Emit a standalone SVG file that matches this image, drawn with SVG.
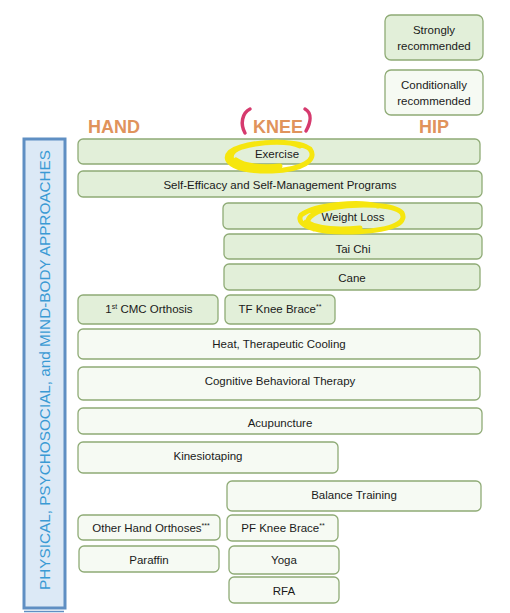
<svg xmlns="http://www.w3.org/2000/svg" width="510" height="613" viewBox="0 0 510 613">
<style>
.s{fill:#e2efd9;stroke:#8fab76;stroke-width:1.3}
.c{fill:#f6faf3;stroke:#8fab76;stroke-width:1.3}
.t{font-family:"Liberation Sans",Arial,sans-serif;font-size:11.5px;fill:#1a1a1a;text-anchor:middle}
.h{font-family:"Liberation Sans",Arial,sans-serif;font-size:18px;font-weight:bold;fill:#e0935c;text-anchor:middle}
.sup{font-size:7px}
.y{fill:none;stroke:#f6e60e;stroke-width:5;stroke-linecap:round;stroke-linejoin:round}
.p{fill:none;stroke:#d63a6e;stroke-width:3.5;stroke-linecap:round}
</style>
<rect width="510" height="613" fill="#ffffff"/>
<g id="legend-strong"><rect class="s" x="385" y="15" width="98" height="45" rx="6"/><text class="t" x="434" y="34">Strongly</text><text class="t" x="434" y="50">recommended</text></g>
<g id="legend-cond"><rect class="c" x="385" y="70" width="98" height="45" rx="6"/><text class="t" x="434" y="89">Conditionally</text><text class="t" x="434" y="105">recommended</text></g>
<g id="headers"><text class="h" x="114" y="133">HAND</text><text class="h" x="278" y="133">KNEE</text><text class="h" x="434" y="133">HIP</text></g>
<g id="sidebar"><rect x="24" y="139" width="41" height="469" fill="#dce9f6" stroke="#5f8fc3" stroke-width="3"/><line x1="24" y1="611.5" x2="64" y2="611.5" stroke="#5f8fc3" stroke-width="1.5"/><text x="0" y="0" transform="translate(50,370) rotate(-90)" font-family="'Liberation Sans',Arial,sans-serif" font-size="15.5" fill="#3a9ad4" text-anchor="middle" textLength="440" lengthAdjust="spacingAndGlyphs">PHYSICAL, PSYCHOSOCIAL, and MIND-BODY APPROACHES</text></g>
<g id="connectors"/>
<g id="exercise"><rect class="s" x="78" y="139" width="402" height="25" rx="5"/><text class="t" x="277" y="158">Exercise</text></g>
<g id="self-efficacy"><rect class="s" x="78" y="171" width="404" height="26" rx="5"/><text class="t" x="280" y="189">Self-Efficacy and Self-Management Programs</text></g>
<g id="weight-loss"><rect class="s" x="223" y="203" width="259" height="26" rx="5"/><text class="t" x="353" y="221">Weight Loss</text></g>
<g id="tai-chi"><rect class="s" x="224" y="234" width="258" height="25" rx="5"/><text class="t" x="353" y="253">Tai Chi</text></g>
<g id="cane"><rect class="s" x="224" y="264" width="256" height="26" rx="5"/><text class="t" x="352" y="282">Cane</text></g>
<g id="cmc"><rect class="s" x="78" y="295" width="140" height="29" rx="5"/><text class="t" x="149" y="313">1<tspan class="sup" dy="-4">st</tspan><tspan dy="4"> CMC Orthosis</tspan></text></g>
<g id="tf-knee"><rect class="s" x="225" y="295" width="110" height="29" rx="5"/><text class="t" x="280" y="313">TF Knee Brace<tspan class="sup" dy="-4">**</tspan></text></g>
<g id="heat"><rect class="c" x="78" y="329" width="402" height="30" rx="5"/><text class="t" x="279" y="348">Heat, Therapeutic Cooling</text></g>
<g id="cbt"><rect class="c" x="78" y="367" width="402" height="33" rx="5"/><text class="t" x="280" y="385">Cognitive Behavioral Therapy</text></g>
<g id="acupuncture"><rect class="c" x="78" y="408" width="404" height="26" rx="5"/><text class="t" x="280" y="427">Acupuncture</text></g>
<g id="kinesiotaping"><rect class="c" x="78" y="442" width="260" height="31" rx="5"/><text class="t" x="208" y="460">Kinesiotaping</text></g>
<g id="balance"><rect class="c" x="227" y="481" width="254" height="30" rx="5"/><text class="t" x="354" y="499">Balance Training</text></g>
<g id="other-hand"><rect class="c" x="78" y="515" width="142" height="25" rx="5"/><text class="t" x="151" y="532">Other Hand Orthoses<tspan class="sup" dy="-4">***</tspan></text></g>
<g id="pf-knee"><rect class="c" x="227" y="515" width="111" height="26" rx="5"/><text class="t" x="283" y="532">PF Knee Brace<tspan class="sup" dy="-4">**</tspan></text></g>
<g id="paraffin"><rect class="c" x="79" y="546" width="140" height="26" rx="5"/><text class="t" x="149" y="564">Paraffin</text></g>
<g id="yoga"><rect class="c" x="229" y="546" width="110" height="28" rx="5"/><text class="t" x="284" y="564">Yoga</text></g>
<g id="rfa"><rect class="c" x="229" y="577" width="110" height="26" rx="5"/><text class="t" x="284" y="595">RFA</text></g>
<g id="annotations">
<path class="p" d="M250,109 C242,113 240,124 245,133"/>
<path class="p" d="M305,109 C312,113 311,122 306,131"/>
<path class="y" d="M300,146 C288,140 246,141 230,152 C220,162 238,172 272,171 C302,170 318,160 310,149 C300,141 266,140 242,147 C228,152 226,163 246,168 M236,160 C244,166 262,168 280,166"/>
<path class="y" d="M378,206 C360,201 316,204 301,215 C294,227 322,233 352,232 C388,231 408,224 402,213 C394,204 358,203 330,208 C312,212 300,221 314,229 M306,222 C318,229 340,230 360,228"/>
</g>
</svg>
